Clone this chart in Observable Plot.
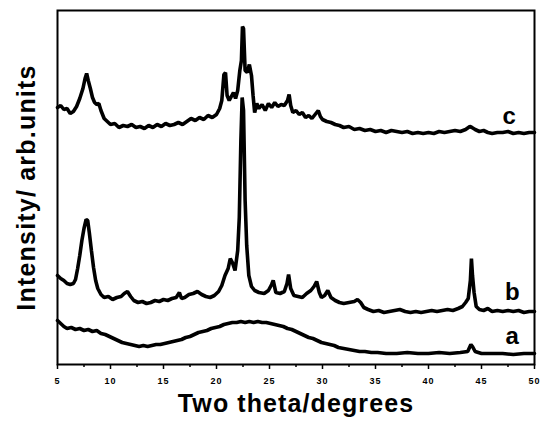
<!DOCTYPE html>
<html>
<head>
<meta charset="utf-8">
<script src="https://cdn.jsdelivr.net/npm/d3@7"></script>
<script src="https://cdn.jsdelivr.net/npm/@observablehq/plot@0.6"></script>
<style>
  html, body { margin: 0; padding: 0; background: #fff; }
  #chart { width: 540px; height: 427px; }
</style>
</head>
<body>
<div id="chart"></div>
<script>
// ---- data (intensity in arbitrary units) ----
const thetaA = [5.0,5.3,5.6,5.9,6.3,6.7,7.1,7.5,7.9,8.3,8.7,9.1,9.5,9.9,10.3,10.7,11.1,11.5,11.9,12.3,12.7,13.1,13.5,13.9,14.3,14.7,15.1,15.5,15.9,16.3,16.7,17.1,17.5,17.9,18.3,18.7,19.1,19.5,19.9,20.3,20.7,21.1,21.5,21.9,22.3,22.7,23.1,23.5,23.9,24.3,24.7,25.1,25.5,25.9,26.3,26.7,27.1,27.5,27.9,28.3,28.7,29.1,29.5,29.9,30.3,30.7,31.1,31.5,32.0,32.5,33.0,33.5,34.0,34.6,35.2,36.0,37.0,38.0,39.0,40.0,41.0,42.0,43.0,43.7,44.0,44.15,44.4,45.0,46.0,47.0,48.0,49.0,50.0];
const intensityA = [44,41,38,36,37,35,36,34,35,33,34,31,30,28,26,24,22,21,20,19,18,19,18,19,20,20,21,22,23,24,25,27,28,30,32,33,34,36,37,38,40,41,42,42,43,42,43,42,43,42,42,41,40,39,38,36,35,33,31,29,27,26,24,22,21,20,19,17,16,15,14,13,13,12,12,11,11,12,11,11,12,11,12,13,20,18,13,11,11,11,10,11,11];

const thetaB = [5.0,5.3,5.6,5.9,6.2,6.5,6.7,6.9,7.1,7.3,7.5,7.7,7.85,8.0,8.2,8.4,8.6,8.8,9.1,9.4,9.8,10.2,10.6,11.0,11.3,11.6,11.9,12.2,12.6,13.0,13.4,13.8,14.2,14.6,15.0,15.4,15.8,16.2,16.5,16.7,17.0,17.4,17.8,18.2,18.6,19.0,19.4,19.8,20.2,20.5,20.8,21.1,21.3,21.5,21.75,22.0,22.15,22.3,22.42,22.55,22.7,22.85,23.05,23.3,23.6,24.0,24.5,24.9,25.2,25.35,25.6,26.0,26.4,26.65,26.8,27.0,27.3,27.7,28.1,28.5,28.9,29.2,29.45,29.7,29.9,30.2,30.5,30.8,31.2,31.6,32.0,32.5,33.0,33.3,33.6,33.9,34.3,34.8,35.3,35.8,36.3,36.8,37.3,37.8,38.3,38.8,39.3,39.8,40.3,40.8,41.3,41.8,42.3,42.8,43.2,43.5,43.75,43.95,44.05,44.15,44.3,44.5,44.8,45.2,45.6,46.0,46.5,47.0,47.5,48.0,48.5,49.0,49.5,50.0];
const intensityB = [89,86,84,81,80,81,85,96,109,124,136,145,144,132,114,97,84,76,70,67,68,65,67,68,71,73,68,64,62,63,61,62,64,63,65,64,66,67,72,66,67,70,71,73,70,68,67,69,73,79,89,96,106,102,94,114,147,224,267,254,164,119,89,78,74,72,71,74,80,84,72,71,73,81,90,76,69,68,67,71,74,78,83,72,67,69,74,67,64,62,61,62,63,65,62,57,55,53,54,52,53,54,55,53,52,53,52,53,54,53,54,55,54,56,58,62,66,84,106,89,72,58,55,54,56,53,54,53,54,53,54,52,53,53];

const thetaC = [5.0,5.3,5.6,5.9,6.2,6.5,6.8,7.1,7.4,7.6,7.75,7.9,8.1,8.3,8.5,8.7,8.9,9.1,9.4,9.7,10.0,10.4,10.8,11.2,11.6,12.0,12.4,12.8,13.2,13.6,14.0,14.4,14.8,15.2,15.6,16.0,16.4,16.8,17.2,17.6,18.0,18.4,18.8,19.2,19.6,20.0,20.3,20.5,20.7,20.85,21.0,21.2,21.4,21.6,21.8,22.0,22.2,22.35,22.45,22.55,22.7,22.9,23.1,23.3,23.45,23.6,23.8,24.0,24.3,24.6,24.9,25.2,25.5,25.8,26.1,26.4,26.7,26.85,27.0,27.2,27.5,27.8,28.1,28.4,28.7,29.0,29.3,29.6,29.8,30.0,30.4,30.8,31.2,31.6,32.0,32.5,33.0,33.5,34.0,34.5,35.0,35.5,36.0,36.5,37.0,37.5,38.0,38.5,39.0,39.5,40.0,40.5,41.0,41.5,42.0,42.5,43.0,43.5,43.9,44.1,44.4,44.8,45.2,45.6,46.0,46.5,47.0,47.5,48.0,48.5,49.0,49.5,50.0];
const intensityC = [257,259,255,256,251,253,258,266,276,286,291,284,276,267,262,260,261,254,246,243,240,241,237,239,238,240,237,238,236,239,237,240,238,241,239,240,242,240,243,246,244,247,245,249,247,250,256,264,290,292,269,264,268,272,266,274,294,304,338,336,294,292,300,289,269,252,261,256,260,254,261,257,262,258,260,259,264,270,259,252,254,250,252,247,249,246,250,254,248,245,243,242,240,239,237,238,235,236,234,235,233,234,232,234,233,232,233,231,232,231,232,231,233,232,233,234,233,235,238,237,235,233,234,232,231,232,232,233,231,232,231,232,232];

const traceLabels = ["a", "b", "c"];
const labelTheta = [47.9, 47.9, 47.6];
const labelIntensity = [28, 72, 248];

const xTicks = [5, 10, 15, 20, 25, 30, 35, 40, 45, 50];
const xMinorTicks = [7.5, 12.5, 17.5, 22.5, 27.5, 32.5, 37.5, 42.5, 47.5];
const xLabel = "Two theta/degrees";
const yLabel = "Intensity/ arb.units";

// ---- build tables ----
const toRows = (xs, ys, s) => xs.map((x, i) => ({theta: x, intensity: ys[i], sample: s}));
const rows = [
  ...toRows(thetaA, intensityA, "a"),
  ...toRows(thetaB, intensityB, "b"),
  ...toRows(thetaC, intensityC, "c")
];
const labels = traceLabels.map((t, i) => ({t, theta: labelTheta[i], intensity: labelIntensity[i]}));

const chart = Plot.plot({
  width: 540,
  height: 427,
  marginLeft: 57,
  marginRight: 6,
  marginTop: 10,
  marginBottom: 63,
  style: {fontFamily: "'Liberation Sans', Arial, sans-serif", background: "#fff", color: "#000"},
  x: {domain: [5, 50]},
  y: {domain: [0, 354]},
  marks: [
    Plot.line(rows, {x: "theta", y: "intensity", z: "sample", stroke: "#000", strokeWidth: 3.6, strokeLinejoin: "miter", curve: "linear"}),
    Plot.text(labels, {x: "theta", y: "intensity", text: "t", fontSize: 24, fontWeight: "bold", fill: "#000"}),
    Plot.axisX({ticks: xTicks, tickSize: 5, tickPadding: 8, tickFormat: d => String(d), fontSize: 9, fontWeight: "bold", label: null, stroke: "#000", strokeWidth: 1.5}),
    Plot.axisX({ticks: xMinorTicks, tickSize: 3, text: null, label: null, stroke: "#000", strokeWidth: 1.5}),
    Plot.axisY({ticks: [], label: null}),
    Plot.frame({stroke: "#000", strokeWidth: 2}),
    Plot.text([xLabel], {frameAnchor: "bottom", dy: 47, text: d => d, fontSize: 25, fontWeight: "bold", fill: "#000"}),
    Plot.text([yLabel], {frameAnchor: "left", dx: -31, rotate: -90, textAnchor: "middle", text: d => d, fontSize: 25, fontWeight: "bold", fill: "#000"})
  ]
});

d3.select(chart).selectAll("text").each(function() {
  const t = this.textContent;
  if (t === xLabel) this.setAttribute("letter-spacing", "1.1");
  if (t === yLabel) this.setAttribute("letter-spacing", "1.2");
});
d3.select(chart).selectAll("g[aria-label='x-axis tick label'] text").attr("letter-spacing", "1");

document.getElementById("chart").appendChild(chart);
</script>
</body>
</html>
